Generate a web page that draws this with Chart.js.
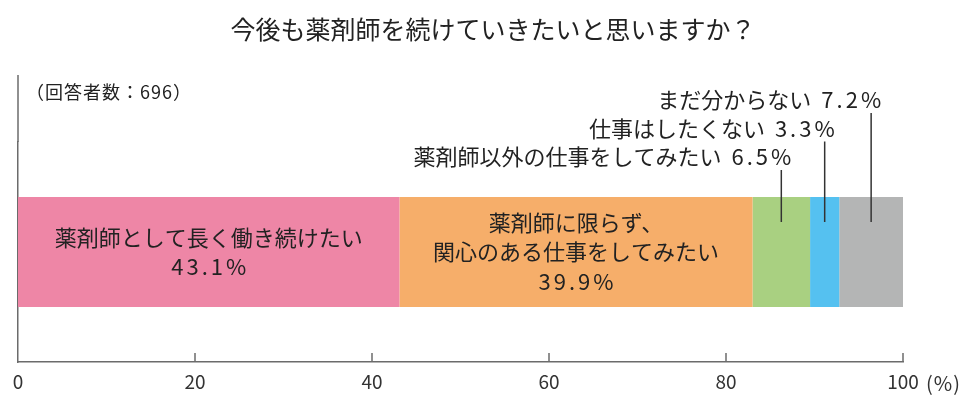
<!DOCTYPE html>
<html lang="ja">
<head>
<meta charset="utf-8">
<script src="https://cdn.jsdelivr.net/npm/chart.js@4"></script>
<style>
  html, body { margin: 0; padding: 0; background: #fff; }
  #wrap { width: 969px; height: 396px; }
</style>
</head>
<body>
<div id="wrap"><canvas id="chart"></canvas></div>
<script>
const title = "今後も薬剤師を続けていきたいと思いますか？";
const note = "（回答者数：696）";
const categories = ["回答"];
const answers = [
  "薬剤師として長く働き続けたい",
  "薬剤師に限らず、\n関心のある仕事をしてみたい",
  "薬剤師以外の仕事をしてみたい",
  "仕事はしたくない",
  "まだ分からない"
];
const shares = [43.1, 39.9, 6.5, 3.3, 7.2];
const colors = ["#EE86A6", "#F6AE6A", "#A9D081", "#55C1F0", "#B4B5B5"];
const xTicks = [0, 20, 40, 60, 80, 100];

const FONT = '"Noto Sans CJK JP", "Noto Sans", sans-serif';
const axisColor = "#6b6b6b";
const textColor = "#222";

// titre, note, traits de rappel et étiquettes des segments
const annotate = {
  id: "annotate",
  afterDraw(chart) {
    const ctx = chart.ctx;
    const area = chart.chartArea;
    const xs = chart.scales.x;
    ctx.save();
    ctx.fillStyle = textColor;
    ctx.textBaseline = "middle";

    ctx.font = "25px " + FONT;
    ctx.textAlign = "center";
    ctx.fillText(title, 493, 29);

    ctx.font = "18px " + FONT;
    ctx.textAlign = "left";
    ctx.letterSpacing = "1px";
    ctx.fillText(note, area.left + 8, 92);
    ctx.letterSpacing = "0px";

    // axe vertical prolongé vers le haut
    ctx.strokeStyle = axisColor;
    ctx.lineWidth = 1.5;
    ctx.beginPath();
    ctx.moveTo(area.left, area.top);
    ctx.lineTo(area.left, area.top - 67);
    ctx.stroke();

    // graduations vers l'intérieur
    xTicks.slice(1).forEach((v) => {
      const px = xs.getPixelForValue(v);
      ctx.beginPath();
      ctx.moveTo(px, area.bottom);
      ctx.lineTo(px, area.bottom - 9);
      ctx.stroke();
    });

    ctx.font = "20px " + FONT;
    ctx.fillStyle = "#333";
    ctx.letterSpacing = "1px";
    ctx.fillText("(%)", xs.getPixelForValue(100) + 23, area.bottom + 21);
    ctx.letterSpacing = "0px";

    let k = 0;
    chart.data.datasets.forEach((ds, i) => {
      const bar = chart.getDatasetMeta(i).data[0];
      const p = bar.getProps(["x", "y", "base", "height"], true);
      const top = p.y - p.height / 2;
      const cx = (p.x + p.base) / 2;
      const pct = shares[i].toFixed(1) + "%";
      ctx.fillStyle = textColor;
      ctx.font = "22px " + FONT;
      if (shares[i] >= 20) {
        const lines = answers[i].split("\n");
        const n = lines.length + 1;
        const lh = 29.5;
        ctx.textAlign = "center";
        lines.forEach((t, j) => {
          ctx.fillText(t, cx, p.y + (j - (n - 1) / 2) * lh);
        });
        ctx.letterSpacing = "3px";
        ctx.fillText(pct, cx + 1.5, p.y + ((n - 1) / 2) * lh);
        ctx.letterSpacing = "0px";
      } else {
        const ty = top - 40 - k * 28.5;
        ctx.strokeStyle = "#333";
        ctx.lineWidth = 1.5;
        ctx.beginPath();
        ctx.moveTo(cx, top + 25);
        ctx.lineTo(cx, ty + 13);
        ctx.stroke();
        ctx.textAlign = "right";
        const right = cx + 13;
        ctx.letterSpacing = "3px";
        ctx.fillText(pct, right, ty);
        const w = ctx.measureText(pct).width;
        ctx.letterSpacing = "0px";
        ctx.fillText(answers[i], right - w - 10, ty);
        k++;
      }
    });
    ctx.restore();
  }
};

new Chart(document.getElementById("chart"), {
  type: "bar",
  data: {
    labels: categories,
    datasets: answers.map((a, i) => ({
      label: a,
      data: [shares[i]],
      backgroundColor: colors[i],
      borderWidth: 0
    }))
  },
  options: {
    indexAxis: "y",
    responsive: true,
    maintainAspectRatio: false,
    animation: false,
    layout: { padding: { top: 142, left: 17, right: 66, bottom: 0 } },
    datasets: { bar: { categoryPercentage: 1, barPercentage: 0.5 } },
    plugins: {
      legend: { display: false },
      tooltip: { enabled: false },
      title: { display: false }
    },
    scales: {
      x: {
        type: "linear",
        stacked: true,
        min: 0,
        max: 100,
        afterBuildTicks: (s) => { s.ticks = xTicks.map((v) => ({ value: v })); },
        grid: { display: false, drawTicks: false },
        border: { display: true, color: axisColor, width: 1.5 },
        ticks: { padding: 8, color: "#333", maxRotation: 0, autoSkip: false, font: { family: FONT, size: 19 } },
        afterFit: (s) => { s.height = 34; s.paddingLeft = 0; s.paddingRight = 0; }
      },
      y: {
        stacked: true,
        grid: { display: false, drawTicks: false },
        border: { display: true, color: axisColor, width: 1.5 },
        ticks: { display: false },
        afterFit: (s) => { s.width = 1; }
      }
    }
  },
  plugins: [annotate]
});
</script>
</body>
</html>
